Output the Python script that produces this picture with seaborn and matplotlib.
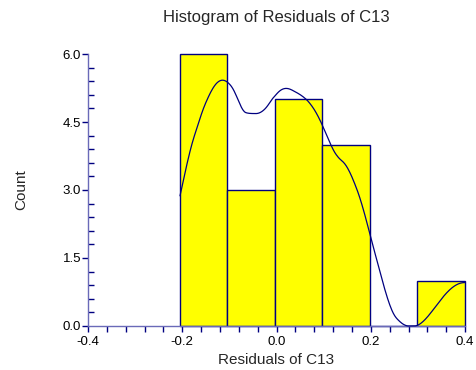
import numpy as np
import matplotlib
matplotlib.use("Agg")
import matplotlib.pyplot as plt
import seaborn as sns
import pandas as pd
from matplotlib.ticker import MultipleLocator, FormatStrFormatter

# residuals of C13 (estimated from the bins + density trace)
residuals = [
  -0.2048, -0.1721, -0.1712, -0.1235, -0.1219, -0.1068,
  -0.0673, -0.0665, -0.043,
  0.0191, 0.0275, 0.03, 0.0341, 0.0634,
  0.1013, 0.1448, 0.149, 0.1732,
  0.399,
]
n_bins = 6
kernel_halfwidth = 0.107   # biweight kernel
trace_scale = 1.086        # density trace height factor
x_ticks = [-0.4, -0.2, 0.0, 0.2, 0.4]
y_ticks = [0.0, 1.5, 3.0, 4.5, 6.0]

df = pd.DataFrame({"resid": residuals})

# density trace (biweight kernel), scaled to counts
vals = np.array(residuals)
bin_w = (vals.max() - vals.min()) / n_bins
grid = np.linspace(vals.min(), vals.max(), 400)
u = (grid[:, None] - vals[None, :]) / kernel_halfwidth
k = np.where(np.abs(u) < 1, 15/16*(1 - u**2)**2, 0.0)
dens = k.sum(1) / kernel_halfwidth * bin_w * trace_scale
trace_df = pd.DataFrame({"x": grid, "y": dens})

sns.set_style("white")
plt.rcParams['font.family'] = ['Liberation Sans', 'DejaVu Sans']

axis_col = "#6a6ab8"
navy = "#000080"

fig = plt.figure(figsize=(4.77, 3.70), dpi=100)
ax = fig.add_axes([0.1845, 0.119, 0.7905, 0.735])

sns.histplot(
  data=df,
  x="resid",
  bins=n_bins,
  stat="count",
  color="#ffff00",
  edgecolor=navy,
  linewidth=1.0,
  alpha=1,
  ax=ax,
)
for p in ax.patches:
  p.set_clip_on(False)

sns.lineplot(data=trace_df, x="x", y="y", color=navy, linewidth=0.9,
             estimator=None, sort=False, ax=ax, zorder=5)
for ln in ax.lines:
  ln.set_clip_on(False)

ax.set_xlim(-0.4, 0.4)
ax.set_ylim(0, 6)
ax.set_xticks(x_ticks)
ax.set_yticks(y_ticks)
ax.xaxis.set_major_formatter(FormatStrFormatter('%.1f'))
ax.yaxis.set_major_formatter(FormatStrFormatter('%.1f'))
ax.xaxis.set_minor_locator(MultipleLocator(0.04))
ax.yaxis.set_minor_locator(MultipleLocator(0.3))

for s in ["top", "right"]:
  ax.spines[s].set_visible(False)
for s in ["left", "bottom"]:
  ax.spines[s].set_color(axis_col)
  ax.spines[s].set_linewidth(1.0)

ax.tick_params(axis="both", which="major", direction="out", length=4,
               width=1, color=navy, labelsize=9.5, labelcolor="black")
ax.tick_params(axis="x", which="major", pad=3)
ax.tick_params(axis="y", which="major", pad=1)
ax.tick_params(axis="x", which="minor", direction="out", length=4, width=1, color=navy)
ax.tick_params(axis="y", which="minor", direction="in", length=4, width=1, color=navy)
ax.tick_params(axis="x", which="both", bottom=True)
ax.tick_params(axis="y", which="both", left=True)

ax.set_xlabel("Residuals of C13", fontsize=11, labelpad=4)
ax.set_ylabel("Count", fontsize=11, labelpad=25)
ax.set_title("Histogram of Residuals of C13", fontsize=12, pad=23)

plt.savefig("out.png", dpi=100)
